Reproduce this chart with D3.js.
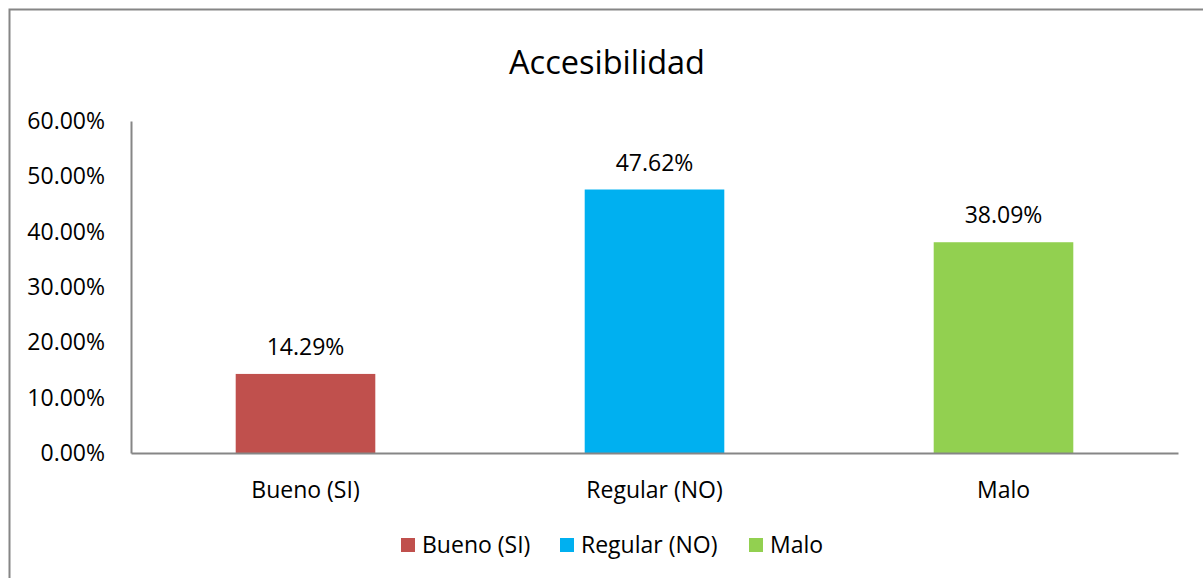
<!DOCTYPE html>
<html>
<head>
<meta charset="utf-8">
<script src="https://cdn.jsdelivr.net/npm/d3@7"></script>
<style>
  body { margin: 0; background: #fff; }
  text { font-family: "Open Sans", sans-serif; fill: #000; }
</style>
</head>
<body>
<div id="chart"></div>
<script>
var width = 1203,
    height = 578;

// data
var categories = ["Bueno (SI)", "Regular (NO)", "Malo"];
var values = [0.1429, 0.4762, 0.3809];
var colors = ["#c0504d", "#00b0f0", "#92d050"];
var yTicks = [0, 0.1, 0.2, 0.3, 0.4, 0.5, 0.6];

var svg = d3.select("#chart").append("svg")
    .attr("width", width).attr("height", height);

// chart border
svg.append("rect")
    .attr("x", 9.5).attr("y", 9.5)
    .attr("width", 1200).attr("height", 580)
    .attr("fill", "#fff")
    .attr("stroke", "#868686")
    .attr("stroke-width", 2);

svg.append("text")
    .attr("x", 607).attr("y", 63)
    .attr("dy", "0.35em")
    .attr("text-anchor", "middle")
    .style("font-size", "32.5px")
    .text("Accesibilidad");

var x = d3.scaleBand()
    .domain(categories)
    .range([131, 1178])
    .paddingInner(0.6)
    .paddingOuter(0.3);

var y = d3.scaleLinear()
    .domain([0, 0.6])
    .range([453, 121]);

var fmt = d3.format(".2%");

// y axis
var yAxis = svg.append("g")
    .attr("transform", "translate(131,0)")
    .call(d3.axisLeft(y).tickValues(yTicks).tickFormat(fmt).tickSize(0).tickPadding(26));
yAxis.select(".domain").attr("stroke", "#868686").attr("stroke-width", 2);
yAxis.selectAll("text").style("font-size", "23px").attr("fill", "#000");

// bars
svg.append("g").selectAll("rect")
    .data(values)
    .enter().append("rect")
    .attr("x", function(d, i) { return x(categories[i]); })
    .attr("y", function(d) { return y(d); })
    .attr("width", x.bandwidth())
    .attr("height", function(d) { return y(0) - y(d); })
    .attr("fill", function(d, i) { return colors[i]; });

// x axis
var xAxis = svg.append("g")
    .attr("transform", "translate(0,453)")
    .call(d3.axisBottom(x).tickSize(0).tickPadding(0));
xAxis.select(".domain").attr("stroke", "#868686").attr("stroke-width", 2);
xAxis.selectAll("text")
    .attr("y", 37).attr("dy", "0.35em")
    .style("font-size", "23px").attr("fill", "#000");

// data labels
svg.append("g").selectAll("text")
    .data(values)
    .enter().append("text")
    .attr("x", function(d, i) { return x(categories[i]) + x.bandwidth() / 2; })
    .attr("y", function(d) { return y(d) - 27; })
    .attr("dy", "0.35em")
    .attr("text-anchor", "middle")
    .style("font-size", "23px")
    .text(function(d) { return fmt(d); });

// legend
var legendX = [401, 560, 749];
var legend = svg.append("g").selectAll("g")
    .data(categories)
    .enter().append("g")
    .attr("transform", function(d, i) { return "translate(" + legendX[i] + ",538)"; });
legend.append("rect")
    .attr("width", 14).attr("height", 14)
    .attr("fill", function(d, i) { return colors[i]; });
legend.append("text")
    .attr("x", 21).attr("y", 7).attr("dy", "0.35em")
    .style("font-size", "23px")
    .text(function(d) { return d; });
</script>
</body>
</html>
